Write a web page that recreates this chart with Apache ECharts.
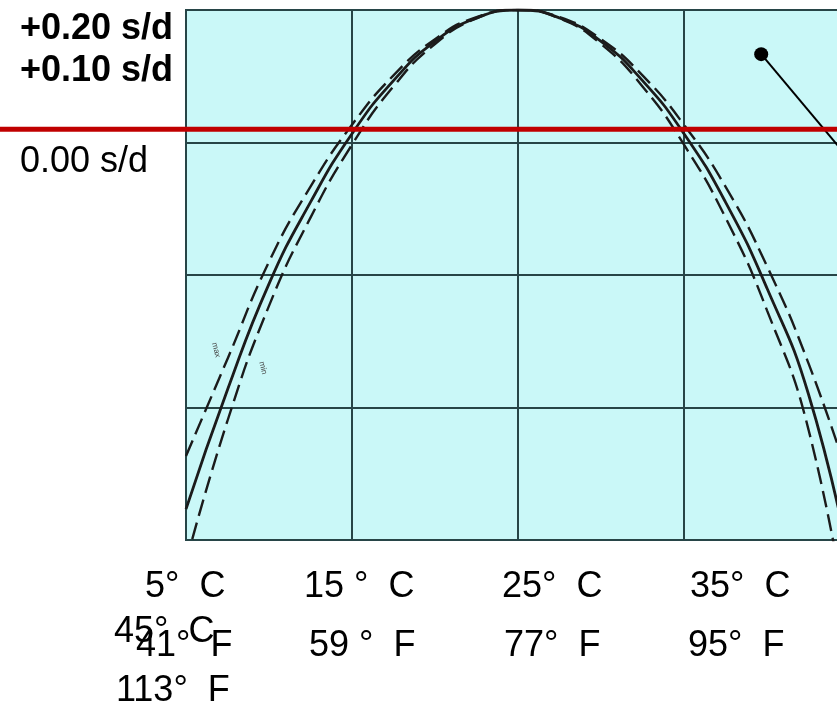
<!DOCTYPE html>
<html>
<head>
<meta charset="utf-8">
<script src="https://cdn.jsdelivr.net/npm/echarts@6/dist/echarts.min.js"></script>
<style>
  html, body { margin: 0; padding: 0; background: #ffffff; overflow: hidden; }
  #chart { width: 870px; height: 707px; }
</style>
</head>
<body>
<div id="chart"></div>
<script>
// Temperature (°C) sample points along the curves
const temps = [5, 7.5, 10, 12.5, 15, 17.5, 20, 22.5, 25, 27.5, 30, 32.5, 35, 37.5, 40, 42.5, 45];

// Daily rate (s/d) versus temperature: nominal curve and the max / min tolerance curves
const rateNominal = [-0.86, -0.59, -0.35, -0.165, -0.01, 0.11, 0.199, 0.252, 0.27, 0.252, 0.199, 0.11, -0.01, -0.165, -0.36, -0.60, -0.98];
const rateMax     = [-0.74, -0.52, -0.30, -0.13, 0.01, 0.122, 0.204, 0.254, 0.27, 0.254, 0.204, 0.122, 0.01, -0.13, -0.31, -0.53, -0.80];
const rateMin     = [-0.98, -0.66, -0.40, -0.20, -0.035, 0.097, 0.193, 0.251, 0.27, 0.251, 0.193, 0.097, -0.035, -0.20, -0.41, -0.68, -1.15];

// Reference rate drawn as the red line
const zeroRate = 0;

// Pointer annotation (temperature, rate): dot then tail
const pointerTemps = [39.65, 45];
const pointerRates = [0.17, -0.07];

// Text labels
const rateLabels = ['+0.20 s/d', '+0.10 s/d', '0.00 s/d'];
const celsiusLabels = ['5°  C', '15 °  C', '25°  C', '35°  C', '45°  C'];
const fahrenheitLabels = ['41°  F', '59 °  F', '77°  F', '95°  F', '113°  F'];

const FONT = '"Liberation Sans", Arial, sans-serif';
const INK = '#1b1b1b';
const GRIDLINE = '#274547';

const chart = echarts.init(document.getElementById('chart'), null, { renderer: 'canvas' });

const pairs = (xs, ys) => xs.map((x, i) => [x, ys[i]]);

const curveSeries = (name, values, dashed) => ({
  name: name,
  type: 'line',
  data: pairs(temps, values),
  smooth: 0.5,
  showSymbol: false,
  symbol: 'none',
  yAxisIndex: 0,
  clip: true,
  lineStyle: {
    color: INK,
    width: dashed ? 2.4 : 2.8,
    type: dashed ? [17, 7] : 'solid'
  },
  z: dashed ? 3 : 4
});

chart.setOption({
  animation: false,
  grid: {
    left: 186, top: 10, width: 664, height: 530,
    outerBoundsMode: 'none',
    show: true,
    backgroundColor: '#caf8f8',
    borderColor: GRIDLINE,
    borderWidth: 2
  },
  xAxis: {
    type: 'value', min: 5, max: 45, interval: 10,
    axisLine: { show: false }, axisTick: { show: false }, axisLabel: { show: false },
    splitLine: { show: true, lineStyle: { color: GRIDLINE, width: 2 } }
  },
  yAxis: [
    { type: 'value', min: -0.93, max: 0.27, show: false },
    {
      type: 'value', min: 0, max: 4, interval: 1,
      axisLine: { show: false }, axisTick: { show: false }, axisLabel: { show: false },
      splitLine: { show: true, lineStyle: { color: GRIDLINE, width: 2 } }
    }
  ],
  series: [
    curveSeries('max', rateMax, true),
    curveSeries('min', rateMin, true),
    curveSeries('nominal', rateNominal, false),
    {
      name: 'pointer',
      type: 'line',
      yAxisIndex: 0,
      data: pairs(pointerTemps, pointerRates).map((p, i) => ({
        value: p,
        symbol: i === 0 ? 'circle' : 'none',
        symbolSize: i === 0 ? 14 : 0
      })),
      showSymbol: true,
      itemStyle: { color: '#000000' },
      lineStyle: { color: '#000000', width: 2 },
      z: 6
    }
  ]
});

// Red reference line across the full width, plus the text overlays
const zeroY = chart.convertToPixel({ yAxisIndex: 0 }, zeroRate);

const textEl = (text, x, y, size, bold) => ({
  type: 'text', x: x, y: y, z: 20,
  style: {
    text: text, fill: '#000000',
    font: (bold ? 'bold ' : '') + size + 'px ' + FONT,
    textVerticalAlign: 'middle', textAlign: 'left'
  }
});

const smallTag = (text, x, y) => ({
  type: 'text', x: x, y: y, z: 20, rotation: -Math.PI * 0.42,
  style: { text: text, fill: '#444444', font: '8px ' + FONT, textAlign: 'center', textVerticalAlign: 'middle' }
});

chart.setOption({
  graphic: [
    {
      type: 'line', z: 10,
      shape: { x1: 0, y1: zeroY, x2: 837, y2: zeroY },
      style: { stroke: '#c00000', lineWidth: 5 }
    },
    textEl(rateLabels[0], 20, 29, 36, true),
    textEl(rateLabels[1], 20, 71, 36, true),
    textEl(rateLabels[2], 20, 162, 36, false),
    textEl(celsiusLabels[0], 145, 587, 36, false),
    textEl(celsiusLabels[1], 304, 587, 36, false),
    textEl(celsiusLabels[2], 502, 587, 36, false),
    textEl(celsiusLabels[3], 690, 587, 36, false),
    textEl(fahrenheitLabels[0], 136, 646, 36, false),
    textEl(fahrenheitLabels[1], 309, 646, 36, false),
    textEl(fahrenheitLabels[2], 504, 646, 36, false),
    textEl(fahrenheitLabels[3], 688, 646, 36, false),
    textEl(celsiusLabels[4], 114, 632, 36, false),
    textEl(fahrenheitLabels[4], 116, 691, 36, false),
    smallTag('max', 216, 350),
    smallTag('min', 263, 368)
  ]
});
</script>
</body>
</html>
